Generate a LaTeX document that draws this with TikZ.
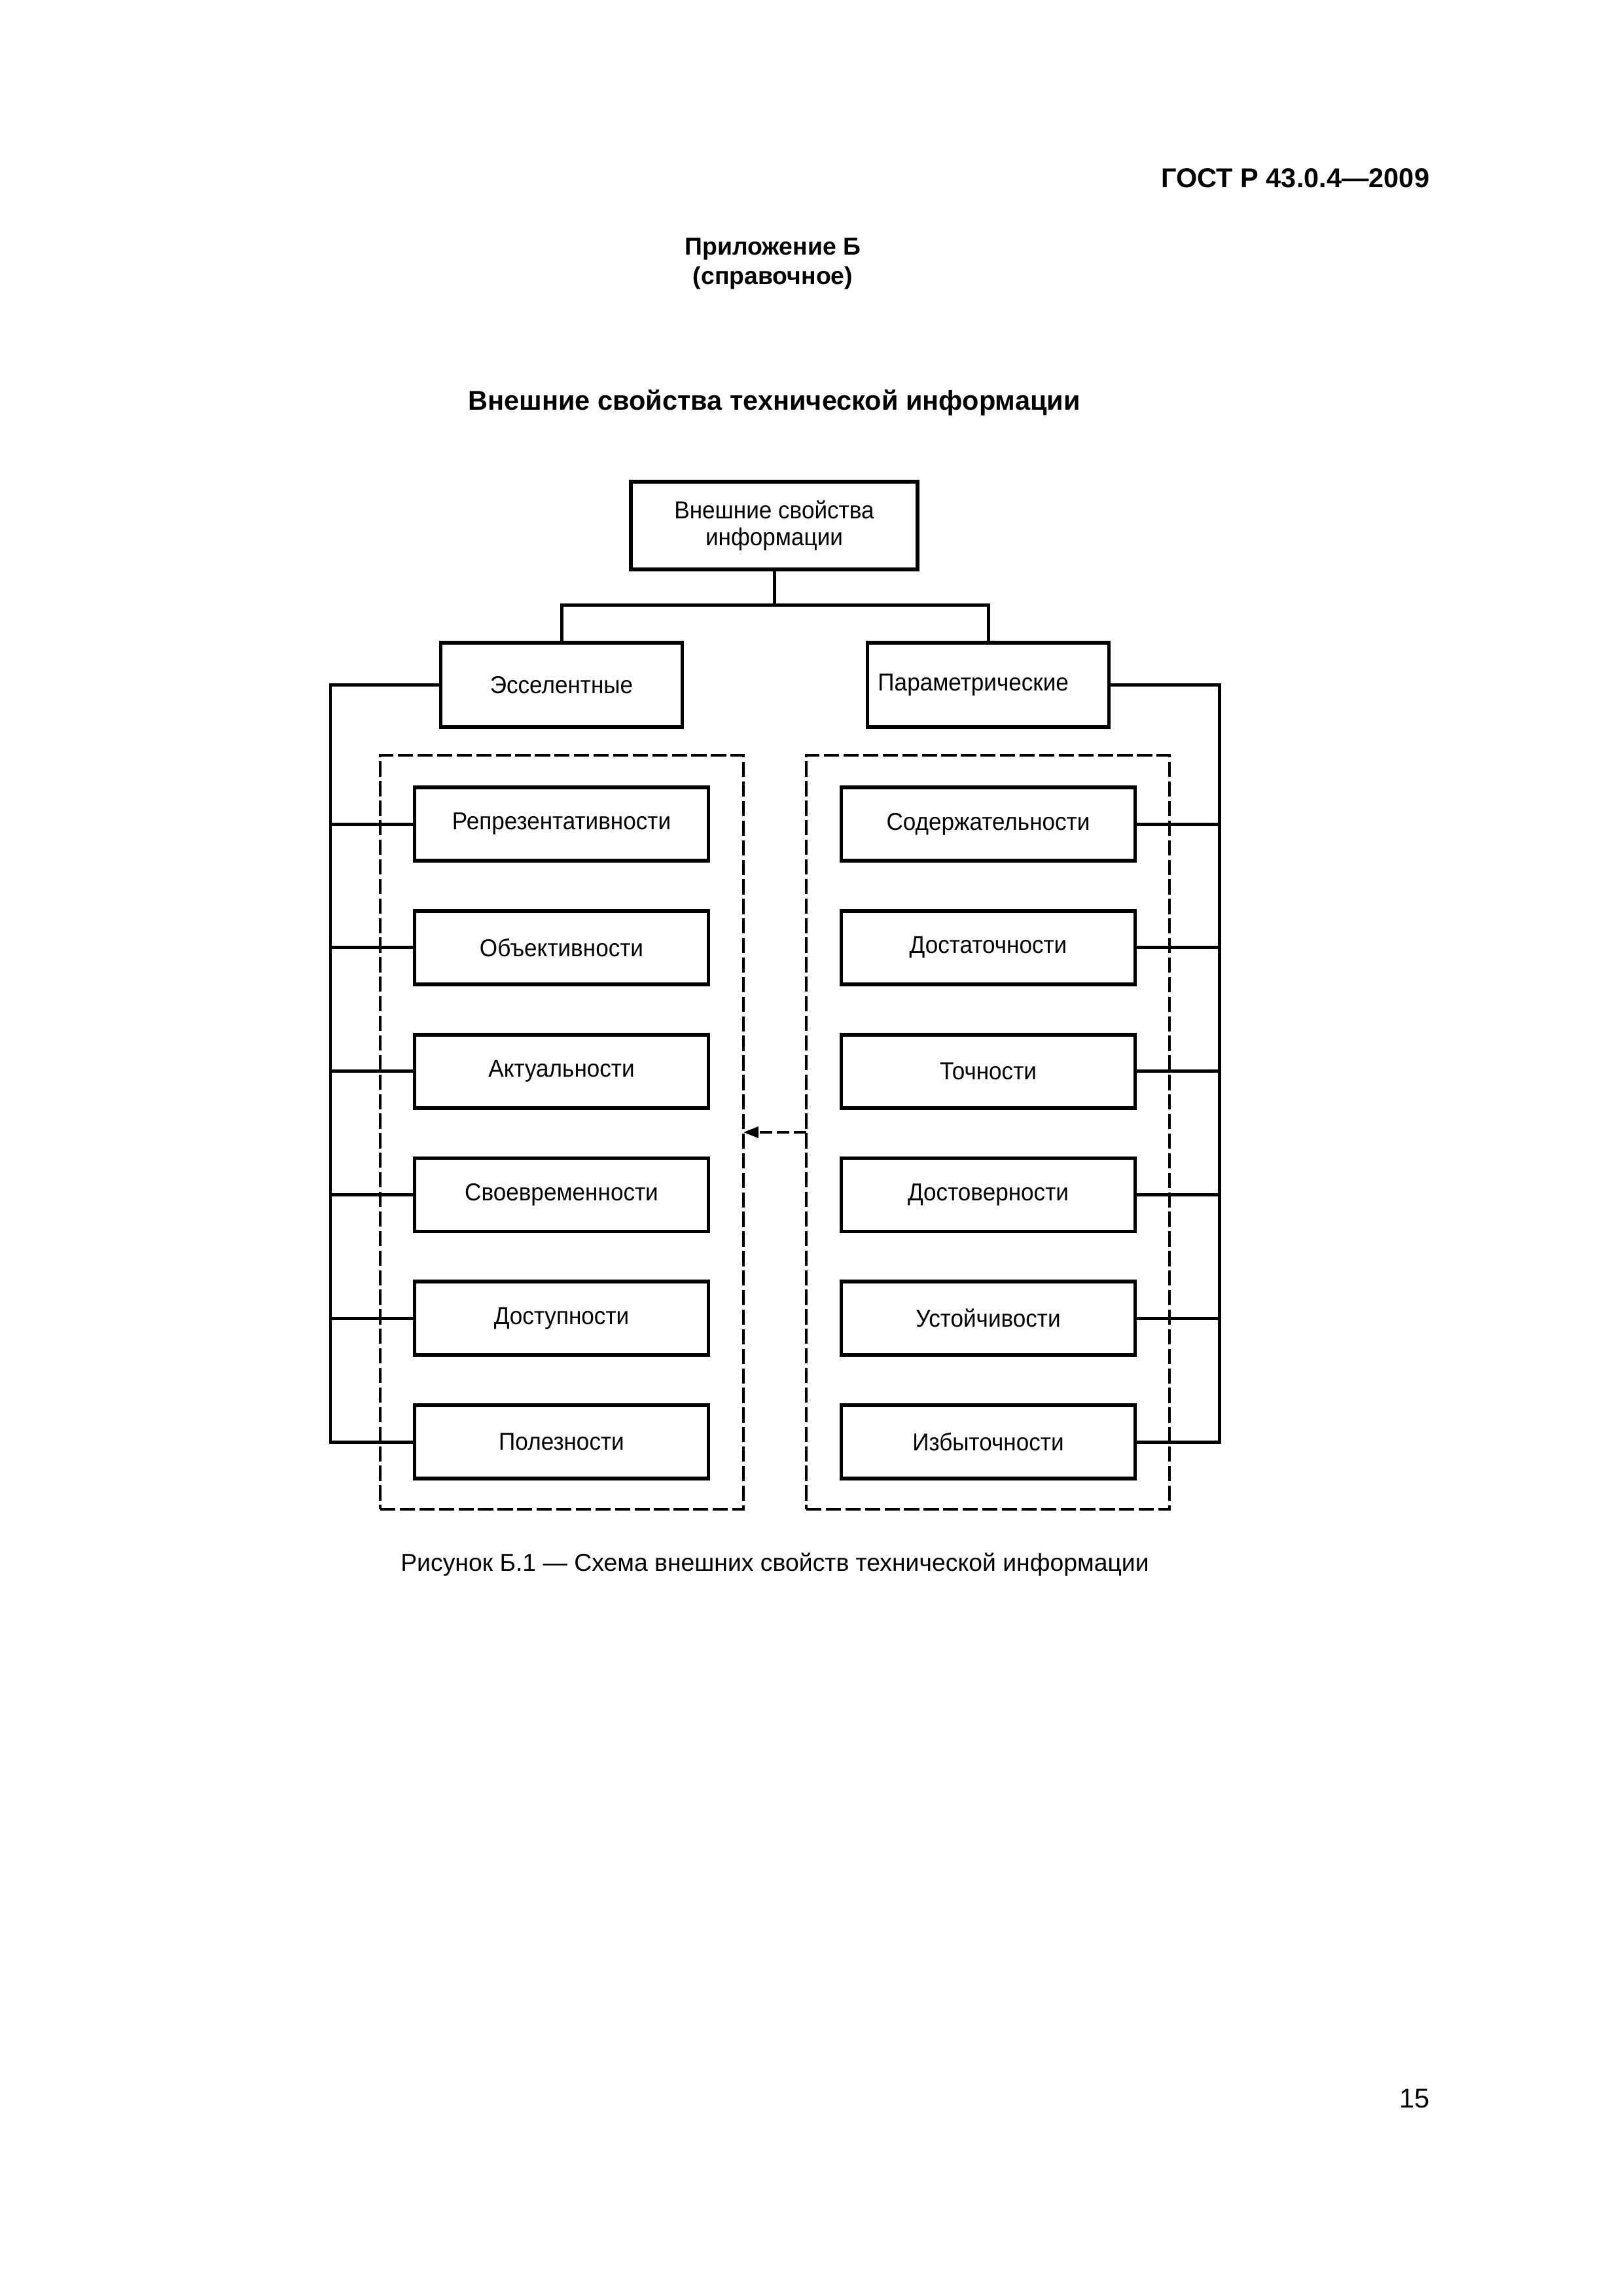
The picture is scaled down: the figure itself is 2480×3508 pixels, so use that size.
\documentclass[tikz,border=0pt]{standalone}
\usepackage{fontspec}
\setmainfont{Liberation Sans}
\newfontfamily\boxfont{Liberation Sans}[FakeStretch=0.94]
\usetikzlibrary{arrows.meta}
\tikzset{
  solidbox/.style={draw, line width=1.4pt, inner sep=0pt, outer sep=0pt, align=center, font=\boxfont\fontsize{9}{9.8}\selectfont},
  itembox/.style={solidbox, minimum width=108.16pt, minimum height=26.98pt},
  groupbox/.style={solidbox, minimum width=88.89pt, minimum height=31.08pt},
  dashbox/.style={draw, line width=0.75pt, dash pattern=on 5.6pt off 1.6pt, minimum width=133.7pt, minimum height=277.52pt, inner sep=0pt, outer sep=0pt},
  conn/.style={line width=1.2pt},
  boldtext/.style={font=\fontsize{10}{12}\selectfont\bfseries, inner sep=0pt},
  subtext/.style={font=\fontsize{9}{11}\selectfont\bfseries, inner sep=0pt},
  plaintext/.style={font=\fontsize{9}{11}\selectfont, inner sep=0pt},
  pagetext/.style={font=\fontsize{10}{12}\selectfont, inner sep=0pt},
}
\begin{document}
\begin{tikzpicture}[x=0.2409pt, y=-0.2409pt]
\path[fill=white, use as bounding box] (0,0) rectangle (2480,3508);

% headings
\node[boldtext, anchor=base east] (hdr) at (2185,286) {ГОСТ Р 43.0.4—2009};
\node[subtext, anchor=base] (app1) at (1181,389) {Приложение Б};
\node[subtext, anchor=base] (app2) at (1181,434) {(справочное)};
\node[boldtext, anchor=base] (title) at (1183,626) {Внешние свойства технической информации};

% dashed groups
\node[dashbox] (ld) at (858.5,1730) {};
\node[dashbox] (rd) at (1509.5,1730) {};

% main boxes
\node[solidbox, minimum width=105.51pt, minimum height=32.28pt] (top) at (1183,803) {Внешние свойства\\информации};
\node[groupbox] (ess) at (858,1046.5) {Эсселентные};
\node[groupbox, text width=81.2pt, inner xsep=3.85pt, align=left] (par) at (1510,1046.5) {Параметрические};

\foreach \t [count=\i] in {Репрезентативности, Объективности, Актуальности, Своевременности, Доступности, Полезности}
  \node[itembox] (l\i) at (858, {1259+188.8*(\i-1)}) {\t};
\foreach \t [count=\i] in {Содержательности, Достаточности, Точности, Достоверности, Устойчивости, Избыточности}
  \node[itembox] (r\i) at (1510, {1259+188.8*(\i-1)}) {\t};

% connectors
\coordinate (lx) at (505,0);
\coordinate (rx) at (1863,0);
\coordinate (bar) at (1183,924);
\draw[conn] (top.south) -- (bar);
\draw[conn] (ess.north) |- (bar) -| (par.north);
\draw[conn] (ess.west) -- (ess.west -| lx) -- (l6.west -| lx) -- (l6.west);
\foreach \i in {1,...,5} \draw[conn] (l\i.west -| lx) -- (l\i.west);
\draw[conn] (par.east) -- (par.east -| rx) -- (r6.east -| rx) -- (r6.east);
\foreach \i in {1,...,5} \draw[conn] (r\i.east -| rx) -- (r\i.east);

\draw[line width=0.75pt, dash pattern=on 4.5pt off 1.8pt, -{Triangle[length=5.5pt,width=4.1pt]}] (rd.west) -- (ld.east);

% caption and page number
\node[plaintext, anchor=base] (cap) at (1184,2400) {Рисунок Б.1 — Схема внешних свойств технической информации};
\node[pagetext, anchor=base east] (pg) at (2185,3220) {15};
\end{tikzpicture}
\end{document}
